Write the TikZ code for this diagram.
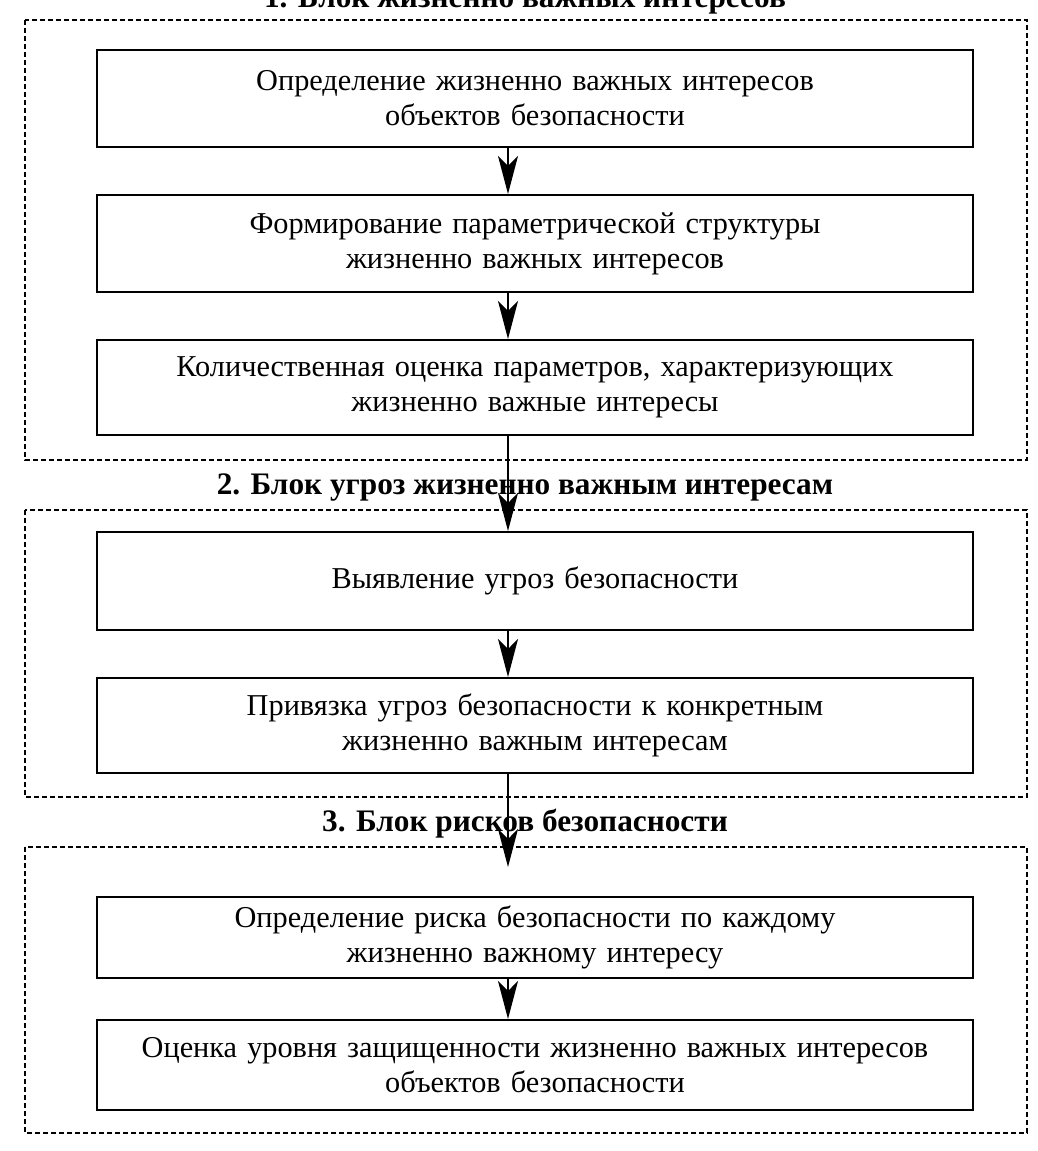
\documentclass[tikz,border=0pt]{standalone}
\usepackage{fontspec}
\setmainfont{Liberation Serif}
\usetikzlibrary{arrows.meta}
\begin{document}
\begin{tikzpicture}[x=1pt,y=-1pt,
  stepbox/.style={draw,line width=2pt,minimum width=876pt,text width=860pt,align=center,
    font=\fontsize{30.3}{35}\selectfont,inner sep=0pt},
  blockframe/.style={draw,line width=1.5pt,dash pattern=on 5pt off 3pt},
  blocktitle/.style={font=\fontsize{31.3}{36}\selectfont\bfseries,inner sep=0pt},
  flow/.style={line width=1.6pt,-{Stealth[length=38pt,width=20pt,inset=10pt]}}]
\useasboundingbox (0,0) rectangle (1038,1151);
% outer frames
\draw[blockframe] (25,20) rectangle (1027,460);
\draw[blockframe] (25,510) rectangle (1027,797);
\draw[blockframe] (25,847) rectangle (1027,1133);
% titles
\node[blocktitle,anchor=base] (t1) at (525,8) {1. Блок жизненно важных интересов};
\node[blocktitle,anchor=base] (t2) at (525,494) {2. Блок угроз жизненно важным интересам};
\node[blocktitle,anchor=base] (t3) at (525,831) {3. Блок рисков безопасности};
% steps
\node[stepbox,minimum height=97pt] (b1) at (535,98.5) {Определение жизненно важных интересов\\объектов безопасности};
\node[stepbox,minimum height=97pt] (b2) at (535,243.5) {Формирование параметрической структуры\\жизненно важных интересов};
\node[stepbox,minimum height=95pt] (b3) at (535,387.5) {Количественная оценка параметров, характеризующих\\жизненно важные интересы};
\node[stepbox,minimum height=98pt] (b4) at (535,581) {Выявление угроз безопасности};
\node[stepbox,minimum height=95pt] (b5) at (535,725.5) {Привязка угроз безопасности к конкретным\\жизненно важным интересам};
\node[stepbox,minimum height=81pt] (b6) at (535,937.5) {Определение риска безопасности по каждому\\жизненно важному интересу};
\node[stepbox,minimum height=90pt] (b7) at (535,1065) {Оценка уровня защищенности жизненно важных интересов\\объектов безопасности};
% arrows
\draw[flow] (b1.south -| 508,0) -- (b2.north -| 508,0);
\draw[flow] (b2.south -| 508,0) -- (b3.north -| 508,0);
\draw[flow] (b3.south -| 508,0) -- (b4.north -| 508,0);
\draw[flow] (b4.south -| 508,0) -- (b5.north -| 508,0);
\draw[flow,shorten >=29pt] (b5.south -| 508,0) -- (b6.north -| 508,0);
\draw[flow] (b6.south -| 508,0) -- (b7.north -| 508,0);
\end{tikzpicture}
\end{document}
